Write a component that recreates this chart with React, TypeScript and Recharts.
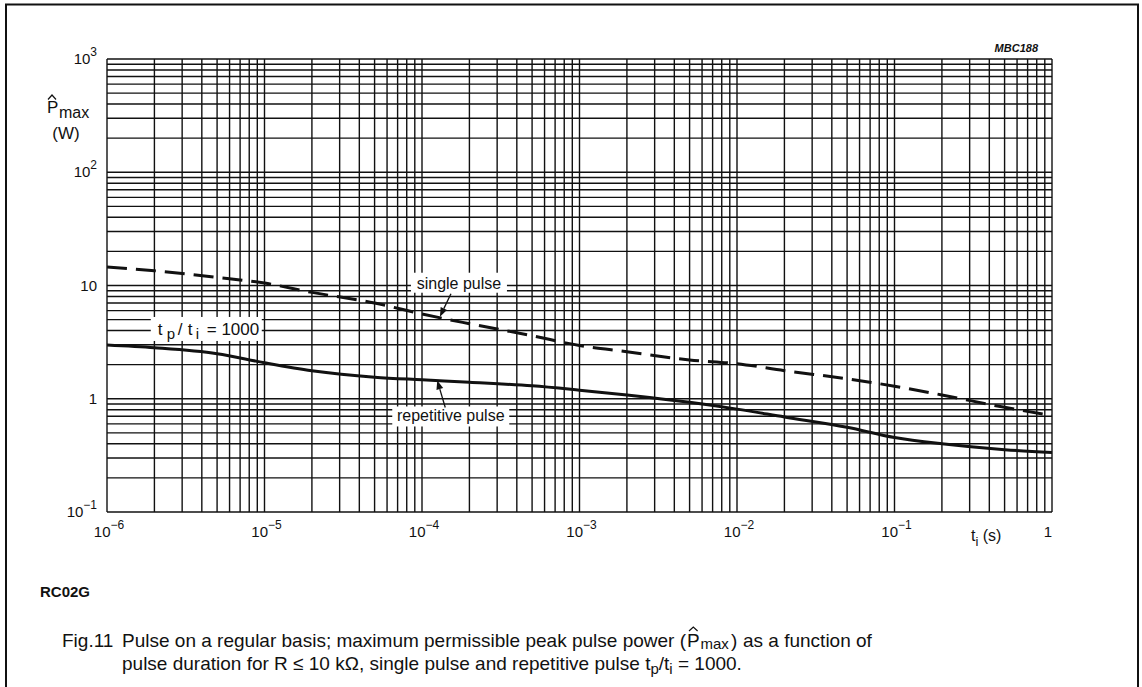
import { LineChart, Line, XAxis, YAxis, CartesianGrid, ReferenceDot } from 'recharts'

// pulse duration t_i (s) and max peak pulse power (W)
const pulseDuration = [1e-6, 2e-6, 5e-6, 1e-5, 2e-5, 5e-5, 1e-4, 2e-4, 5e-4, 1e-3, 2e-3, 5e-3, 1e-2, 2e-2, 5e-2, 1e-1, 2e-1, 5e-1, 1]
const singlePulse = [14.6, 13.5, 11.8, 10.5, 8.7, 7.0, 5.6, 4.6, 3.6, 2.95, 2.6, 2.2, 2.04, 1.77, 1.5, 1.29, 1.08, 0.84, 0.71]
const repetitivePulse = [2.98, 2.82, 2.5, 2.08, 1.77, 1.55, 1.47, 1.4, 1.3, 1.19, 1.08, 0.93, 0.81, 0.69, 0.56, 0.455, 0.4, 0.355, 0.336]

// log paper: decades and the 1..9 steps inside each
const xDecades = [1e-6, 1e-5, 1e-4, 1e-3, 1e-2, 1e-1, 1]
const yDecades = [0.1, 1, 10, 100, 1000]
const gridSteps = [1, 2, 3, 4, 5, 6, 7, 8, 9]
const xTickLabels = [['10', '−6'], ['10', '−5'], ['10', '−4'], ['10', '−3'], ['10', '−2'], ['10', '−1'], ['1', '']]
const yTickLabels = [['10', '−1'], ['1', ''], ['10', ''], ['10', '2'], ['10', '3']]

const withSteps = (decades: number[]) =>
    decades.slice(0, -1).flatMap((d) => gridSteps.map((s) => s * d)).concat(decades[decades.length - 1])

const xGrid = withSteps(xDecades)
const yGrid = withSteps(yDecades)

const chartData = pulseDuration.map((t, i) => ({
    t,
    single: singlePulse[i],
    repetitive: repetitivePulse[i],
}))

const FONT = '"Liberation Sans", Arial, Helvetica, sans-serif'
const INK = '#111'

const decadeIndex = (list: number[], v: number) => list.findIndex((d) => Math.abs(d - v) / d < 1e-6)

const XTick = (props: any) => {
    const { x, payload } = props
    const i = decadeIndex(xDecades, payload.value)
    if (i < 0) return <g />
    const [base, exp] = xTickLabels[i]
    return (
        <text x={x + (exp ? 2 : -4)} y={537} textAnchor="middle" fontSize={15} fill={INK} fontFamily={FONT}>
            {base}
            {exp && (
                <tspan dy={-8} fontSize={12}>
                    {exp}
                </tspan>
            )}
        </text>
    )
}

const YTick = (props: any) => {
    const { y, payload } = props
    const i = decadeIndex(yDecades, payload.value)
    if (i < 0) return <g />
    const [base, exp] = yTickLabels[i]
    return (
        <text x={97} y={y + 5} textAnchor="end" fontSize={15} fill={INK} fontFamily={FONT}>
            {base}
            {exp && (
                <tspan dy={-8} fontSize={12}>
                    {exp}
                </tspan>
            )}
        </text>
    )
}

const Arrow = ({ x1, y1, x2, y2 }: { x1: number; y1: number; x2: number; y2: number }) => {
    const a = Math.atan2(y2 - y1, x2 - x1)
    const L = 9
    const W = 3.5
    const bx = x2 - L * Math.cos(a)
    const by = y2 - L * Math.sin(a)
    return (
        <g>
            <line x1={x1} y1={y1} x2={bx} y2={by} stroke={INK} strokeWidth={1.3} />
            <polygon
                points={`${x2},${y2} ${bx + W * Math.sin(a)},${by - W * Math.cos(a)} ${bx - W * Math.sin(a)},${by + W * Math.cos(a)}`}
                fill={INK}
            />
        </g>
    )
}

const SingleLabel = (props: any) => {
    const { cx, cy } = props
    return (
        <g>
            <rect x={cx - 29} y={cy - 44} width={96} height={20} fill="#fff" />
            <text x={cx + 19} y={cy - 28} textAnchor="middle" fontSize={16} fill={INK} fontFamily={FONT}>
                single pulse
            </text>
            <Arrow x1={cx + 11} y1={cy - 23} x2={cx} y2={cy} />
        </g>
    )
}

const RepetitiveLabel = (props: any) => {
    const { cx, cy } = props
    return (
        <g>
            <rect x={cx - 45} y={cy + 26} width={117} height={20} fill="#fff" />
            <text x={cx + 13.5} y={cy + 41} textAnchor="middle" fontSize={16} fill={INK} fontFamily={FONT}>
                repetitive pulse
            </text>
            <Arrow x1={cx + 8} y1={cy + 27} x2={cx} y2={cy} />
        </g>
    )
}

const RatioLabel = (props: any) => {
    const { cx, cy } = props
    const base = cy + 5
    return (
        <g fontFamily={FONT} fill={INK}>
            <rect x={cx - 56} y={cy - 13} width={111} height={24} fill="#fff" />
            <text x={cx - 49} y={base} fontSize={17}>t</text>
            <text x={cx - 40} y={base + 4} fontSize={15}>p</text>
            <text x={cx - 29} y={base} fontSize={17}>/</text>
            <text x={cx - 19} y={base} fontSize={17}>t</text>
            <text x={cx - 11} y={base + 4} fontSize={15}>i</text>
            <text x={cx} y={base} fontSize={17}>= 1000</text>
        </g>
    )
}

export default function App() {
    return (
        <div style={{ position: 'absolute', left: 0, top: 0, width: 1142, height: 687, background: '#fff', fontFamily: FONT }}>
            <LineChart
                width={1142}
                height={687}
                data={chartData}
                margin={{ top: 59, right: 90, bottom: 135, left: 47 }}
            >
                <CartesianGrid stroke={INK} strokeWidth={1.4} />
                <XAxis
                    dataKey="t"
                    type="number"
                    scale="log"
                    domain={[1e-6, 1]}
                    ticks={xGrid}
                    interval={0}
                    height={40}
                    axisLine={false}
                    tickLine={false}
                    tick={<XTick />}
                    allowDataOverflow
                />
                <YAxis
                    type="number"
                    scale="log"
                    domain={[0.1, 1000]}
                    ticks={yGrid}
                    interval={0}
                    width={60}
                    axisLine={false}
                    tickLine={false}
                    tick={<YTick />}
                    allowDataOverflow
                />
                <Line
                    dataKey="single"
                    type="monotone"
                    stroke={INK}
                    strokeWidth={3}
                    strokeDasharray="20 9"
                    dot={false}
                    isAnimationActive={false}
                />
                <Line
                    dataKey="repetitive"
                    type="monotone"
                    stroke={INK}
                    strokeWidth={3}
                    dot={false}
                    isAnimationActive={false}
                />
                <ReferenceDot x={1.3e-4} y={5.3} r={0} shape={<SingleLabel />} />
                <ReferenceDot x={1.25e-4} y={1.45} r={0} shape={<RepetitiveLabel />} />
                <ReferenceDot x={4.3e-6} y={4.05} r={0} shape={<RatioLabel />} />
            </LineChart>

            <svg
                width={1142}
                height={687}
                style={{ position: 'absolute', left: 0, top: 0, pointerEvents: 'none' }}
                fontFamily={FONT}
                fill={INK}
            >
                {/* figure frame */}
                <path d="M6 687 V4.5 H1138 V687" fill="none" stroke={INK} strokeWidth={2} />

                <text x={1038} y={52} textAnchor="end" fontSize={11} fontStyle="italic" fontWeight="bold">
                    MBC188
                </text>

                {/* y axis title */}
                <text x={47} y={113} fontSize={17}>P</text>
                <path d="M48 99.5 L52 95 L56 99.5" fill="none" stroke={INK} strokeWidth={1.2} />
                <text x={59} y={118} fontSize={16}>max</text>
                <text x={66} y={139} fontSize={17} textAnchor="middle">(W)</text>

                {/* x axis title */}
                <text x={971} y={541} fontSize={16}>
                    t<tspan dy={5} fontSize={13}>i</tspan>
                    <tspan dy={-5}> (s)</tspan>
                </text>

                <text x={40} y={597} fontSize={15} fontWeight="bold">RC02G</text>

                {/* caption */}
                <text x={62} y={647} fontSize={19}>Fig.11</text>
                <text x={122} y={647} fontSize={19} textLength={564} lengthAdjust="spacing">
                    Pulse on a regular basis; maximum permissible peak pulse power (
                </text>
                <text x={687} y={647} fontSize={19}>P</text>
                <path d="M689 631 L693.3 627 L697.6 631" fill="none" stroke={INK} strokeWidth={1.2} />
                <text x={700.5} y={649} fontSize={15}>max</text>
                <text x={731} y={647} fontSize={19}>)</text>
                <text x={743} y={647} fontSize={19}>as a function of</text>
                <text x={122} y={670} fontSize={19}>
                    pulse duration for R ≤ 10 kΩ, single pulse and repetitive pulse t
                    <tspan dy={4} fontSize={15}>p</tspan>
                    <tspan dy={-4}>/t</tspan>
                    <tspan dy={4} fontSize={15}>i</tspan>
                    <tspan dy={-4}> = 1000.</tspan>
                </text>
            </svg>
        </div>
    )
}
